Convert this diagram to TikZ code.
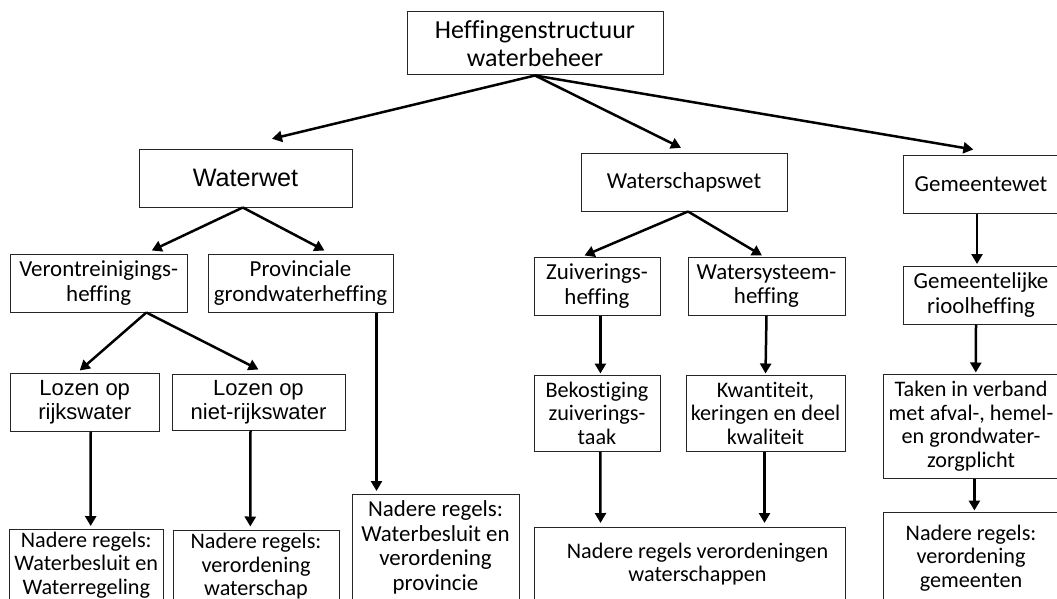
\documentclass[tikz,border=0pt]{standalone}
\usepackage{fontspec}
\setmainfont{Carlito}[Ligatures=NoCommon]
\newfontfamily\arialf{Liberation Sans}
\usetikzlibrary{arrows.meta}
\tikzset{
  box/.style={draw=black!85, line width=1pt, fill=white, inner sep=0pt, align=center},
  calA/.style={font=\fontsize{22.9}{24.5}\selectfont},
  calB/.style={font=\fontsize{22.2}{23.5}\selectfont},
  calT/.style={font=\fontsize{26}{28.5}\selectfont},
  arA/.style={font=\arialf\fontsize{22}{23.5}\selectfont},
  arB/.style={font=\arialf\fontsize{25.2}{28}\selectfont},
  arr/.style={line width=2.5pt, -{Triangle[length=10pt,width=11pt]}}
}
\begin{document}
\begin{tikzpicture}[x=1pt,y=-1pt]
\useasboundingbox (0,0) rectangle (1057,599);
\fill[white] (0,0) rectangle (1057,599);
\clip (0,0) rectangle (1057,599);
% boxes
\node[box,calT,minimum width=256,minimum height=63] (top) at (535,43.5) {Heffingenstructuur\\waterbeheer};
\node[box,arB,minimum width=213,minimum height=58] (waterwet) at (245.5,178) {Waterwet};
\node[box,calA,minimum width=206,minimum height=58] (wschap) at (684,182) {Waterschapswet};
\node[box,calA,minimum width=156,minimum height=58] (gemwet) at (981,184) {Gemeentewet};
\node[box,calA,minimum width=176.5,minimum height=58] (verontr) at (98.75,283) {Verontreinigings-\\heffing};
\node[box,calA,minimum width=185,minimum height=58] (prov) at (300.5,283) {Provinciale\\grondwaterheffing};
\node[box,calA,minimum width=126,minimum height=58] (zuiv) at (597,286) {Zuiverings-\\heffing};
\node[box,calA,minimum width=157,minimum height=58] (wsys) at (766.5,286) {Watersysteem-\\heffing};
\node[box,calA,minimum width=156,minimum height=58] (gemlijk) at (981,295) {Gemeentelijke\\rioolheffing};
\node[box,arA,minimum width=148.5,minimum height=58] (lozenr) at (84.75,402) {Lozen op\\rijkswater};
\node[box,arA,minimum width=173,minimum height=56] (lozenn) at (258.5,402) {Lozen op\\niet-rijkswater};
\node[box,calB,minimum width=126,minimum height=76] (bek) at (597,413) {Bekostiging\\zuiverings-\\taak};
\node[box,calB,minimum width=159,minimum height=76] (kwan) at (765.5,413) {Kwantiteit,\\keringen en deel\\kwaliteit};
\node[box,calB,minimum width=176,minimum height=104] (taken) at (971,426) {Taken in verband\\met afval-, hemel-\\en grondwater-\\zorgplicht};
\node[box,calB,minimum width=153.5,minimum height=72] (nadr) at (86.25,565) {Nadere regels:\\Waterbesluit en\\Waterregeling};
\node[box,calB,minimum width=166,minimum height=73] (nadw) at (256,566.5) {Nadere regels:\\verordening\\waterschap};
\node[box,calA,minimum width=167,minimum height=107] (nadp) at (435.5,547.5) {Nadere regels:\\Waterbesluit en\\verordening\\provincie};
\node[box,calB,minimum width=311,minimum height=74] (nadv) at (689.5,564) {\hspace*{16pt}Nadere regels verordeningen\\\hspace*{16pt}waterschappen};
\node[box,calB,minimum width=176,minimum height=92] (nadg) at (971,558) {Nadere regels:\\verordening\\gemeenten};
% connectors
\draw[arr] (top.south) -- ([xshift=26.5pt,yshift=9.7pt]waterwet.north);
\draw[arr] (top.south) -- ([xshift=-3pt,yshift=4.7pt]wschap.north);
\draw[arr] (top.south) -- ([xshift=-7.6pt,yshift=5pt]gemwet.north);
\draw[arr] ([xshift=-2.7pt]waterwet.south) -- ([xshift=53pt,yshift=3pt]verontr.north);
\draw[arr] ([xshift=-2.7pt]waterwet.south) -- ([xshift=24pt,yshift=3pt]prov.north);
\draw[arr] ([xshift=47.6pt]verontr.south) -- ([xshift=-5pt,yshift=2pt]lozenr.north);
\draw[arr] ([xshift=47.6pt]verontr.south) -- ([yshift=4pt]lozenn.north);
\draw[arr] ([xshift=6pt]lozenr.south) -- ([xshift=4.4pt,yshift=2.5pt]nadr.north);
\draw[arr] ([xshift=-8pt]lozenn.south) -- ([xshift=-5.7pt,yshift=3pt]nadw.north);
\draw[arr] ([xshift=76pt]prov.south) -- ([xshift=-59pt,yshift=2.5pt]nadp.north);
\draw[arr] ([xshift=4pt]wschap.south) -- ([xshift=-12.5pt,yshift=1pt]zuiv.north);
\draw[arr] ([xshift=4pt]wschap.south) -- ([xshift=-4.5pt,yshift=1pt]wsys.north);
\draw[arr] ([xshift=-4pt]gemwet.south) -- ([xshift=-4pt,yshift=1.5pt]gemlijk.north);
\draw[arr] ([xshift=3.4pt]zuiv.south) -- ([xshift=3.4pt,yshift=1pt]bek.north);
\draw[arr] (wsys.south) -- ([yshift=1pt]kwan.north);
\draw[arr] ([xshift=3.4pt]bek.south) -- ([xshift=-89pt,yshift=3.5pt]nadv.north);
\draw[arr] ([xshift=-1pt]kwan.south) -- ([xshift=75pt,yshift=3.5pt]nadv.north);
\draw[arr] ([xshift=-5pt]gemlijk.south) -- ([xshift=4.8pt,yshift=1pt]taken.north);
\draw[arr] ([xshift=3.4pt]taken.south) -- ([xshift=3.4pt,yshift=1pt]nadg.north);
\end{tikzpicture}
\end{document}
